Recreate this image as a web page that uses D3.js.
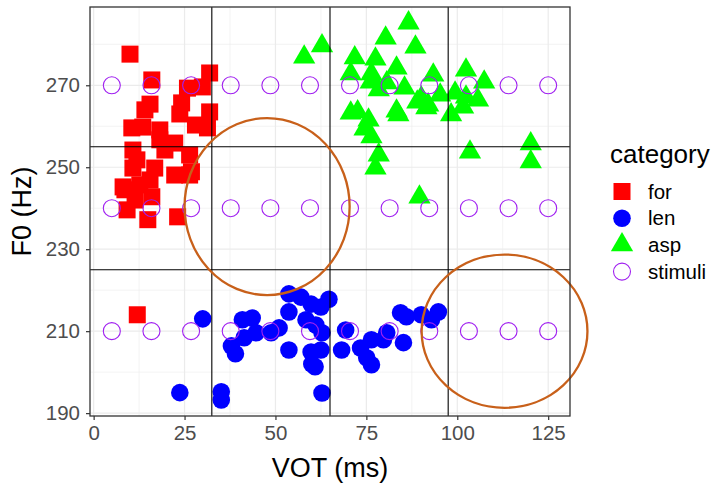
<!DOCTYPE html>
<html>
<head>
<meta charset="utf-8">
<script src="https://cdn.jsdelivr.net/npm/d3@7"></script>
<style>
  body { margin: 0; background: #fff; }
  text { font-family: "Liberation Sans", Arial, sans-serif; }
</style>
</head>
<body>
<svg></svg>
<script>
// VOT (ms) and F0 (Hz)
var forX = [10.0, 16.0, 31.9, 25.8, 29.9, 15.5, 24.2, 23.7, 31.9, 10.5, 13.5, 18.2, 28.0, 31.3, 18.2, 22.3, 10.8, 26.4,
            11.9, 16.8, 10.8, 22.3, 26.9, 8.1, 12.7, 16.0, 9.2, 14.9, 23.1, 8.6, 11.4, 19.6, 15.5, 12.0, 26.4, 14.1];
var forY = [277.6, 271.3, 273.0, 269.3, 269.6, 265.4, 265.7, 263.0, 263.5, 259.6, 259.8, 259.1, 260.3, 259.6, 256.7, 255.9, 254.2, 253.0,
            251.8, 249.8, 249.8, 248.1, 248.9, 245.2, 245.7, 242.8, 239.6, 237.2, 237.9, 244.5, 242.0, 254.2, 246.9, 214.0, 248.1, 264.0];

var lenX = [23.7, 30.0, 35.1, 35.1, 37.9, 39.0, 40.9, 43.6, 41.4, 44.7, 48.8, 51.0, 53.7, 57.0, 53.7, 59.8, 62.5, 64.7, 58.4, 61.1, 62.8,
            53.7, 59.8, 60.0, 62.5, 62.8, 60.9, 69.3, 68.2, 73.4, 76.4, 79.7, 80.6, 75.1, 76.4, 84.4, 86.0, 90.1, 94.8, 92.9, 85.2];
var lenY = [195.0, 213.0, 195.2, 193.2, 206.4, 204.5, 212.8, 213.2, 208.4, 209.6, 209.6, 210.8, 219.1, 218.3, 214.7, 216.6, 215.9, 217.8, 212.8, 211.5, 209.6,
            205.4, 204.9, 202.0, 205.4, 194.9, 201.3, 210.3, 205.4, 205.9, 207.9, 207.9, 209.6, 203.5, 201.8, 214.5, 213.5, 214.0, 214.7, 212.8, 207.2];

var aspX = [57.9, 62.8, 71.8, 70.7, 77.5, 80.3, 86.6, 88.5, 83.3, 76.4, 76.2, 78.4, 85.5, 80.6, 93.4, 102.4, 107.4, 95.3, 99.4, 89.0,
            91.5, 102.4, 105.7, 101.6, 98.3, 90.1, 70.7, 72.6, 75.6, 74.5, 76.4, 78.4, 77.5, 83.3, 83.8, 103.5, 120.2, 120.2, 89.6, 92.0];
var aspY = [276.9, 279.6, 276.7, 272.8, 276.4, 281.5, 285.2, 279.3, 274.2, 272.8, 270.8, 268.9, 269.3, 270.6, 272.5, 273.7, 270.8, 267.6, 268.1, 265.9,
            264.5, 267.1, 266.4, 264.7, 262.8, 266.9, 263.2, 263.5, 261.5, 259.3, 257.4, 253.0, 249.8, 263.7, 262.8, 253.7, 255.7, 251.3, 242.7, 265.2];

var stimX = [5, 15.9, 26.8, 37.7, 48.6, 59.5, 70.5, 81.4, 92.3, 103.2, 114.1, 125];
var stimY = [210, 240, 270];

var vLines = [32.5, 65, 97.5];
var hLines = [225, 255];

var ellCx = [47.7, 113.0], ellCy = [240.4, 210.0], ellRx = [22.7, 22.8], ellRy = [21.6, 18.7];

var xTicks = [0, 25, 50, 75, 100, 125];
var yTicks = [190, 210, 230, 250, 270];
var categories = ["for", "len", "asp", "stimuli"];

var W = 712, H = 487;
var panel = {left: 90, right: 570, top: 7, bottom: 416};

var svg = d3.select("svg").attr("width", W).attr("height", H);

var x = d3.scaleLinear().domain([-1, 131]).range([panel.left, panel.right]);
var y = d3.scaleLinear().domain([189.3, 289.1]).range([panel.bottom, panel.top]);

var g = svg.append("g");

// grid
var minorX = [12.5, 37.5, 62.5, 87.5, 112.5], minorY = [200, 220, 240, 260, 280];
g.selectAll(".gminx").data(minorX).enter().append("line")
  .attr("x1", d => x(d)).attr("x2", d => x(d)).attr("y1", panel.top).attr("y2", panel.bottom)
  .attr("stroke", "#ebebeb").attr("stroke-width", 0.6);
g.selectAll(".gminy").data(minorY).enter().append("line")
  .attr("y1", d => y(d)).attr("y2", d => y(d)).attr("x1", panel.left).attr("x2", panel.right)
  .attr("stroke", "#ebebeb").attr("stroke-width", 0.6);
g.selectAll(".gx").data(xTicks).enter().append("line")
  .attr("x1", d => x(d)).attr("x2", d => x(d)).attr("y1", panel.top).attr("y2", panel.bottom)
  .attr("stroke", "#ebebeb").attr("stroke-width", 1.2);
g.selectAll(".gy").data(yTicks).enter().append("line")
  .attr("y1", d => y(d)).attr("y2", d => y(d)).attr("x1", panel.left).attr("x2", panel.right)
  .attr("stroke", "#ebebeb").attr("stroke-width", 1.2);

// points
var triSize = 215, sq = 17, rr = 8.8;
g.selectAll(".for").data(forX).enter().append("rect")
  .attr("x", (d, i) => x(d) - sq / 2).attr("y", (d, i) => y(forY[i]) - sq / 2)
  .attr("width", sq).attr("height", sq).attr("fill", "#ff0000");
g.selectAll(".len").data(lenX).enter().append("circle")
  .attr("cx", d => x(d)).attr("cy", (d, i) => y(lenY[i])).attr("r", rr)
  .attr("fill", "#0000ff");
g.selectAll(".asp").data(aspX).enter().append("path")
  .attr("d", d3.symbol(d3.symbolTriangle, triSize))
  .attr("transform", (d, i) => "translate(" + x(d) + "," + y(aspY[i]) + ")")
  .attr("fill", "#00ff00");

// stimuli grid
var stim = [];
stimY.forEach(function(sy) { stimX.forEach(function(sx) { stim.push([sx, sy]); }); });
g.selectAll(".stim").data(stim).enter().append("circle")
  .attr("cx", d => x(d[0])).attr("cy", d => y(d[1])).attr("r", 8.5)
  .attr("fill", "none").attr("stroke", "#a020f0").attr("stroke-width", 1.1);

// reference lines
g.selectAll(".vl").data(vLines).enter().append("line")
  .attr("x1", d => x(d)).attr("x2", d => x(d)).attr("y1", panel.top).attr("y2", panel.bottom)
  .attr("stroke", "#000").attr("stroke-width", 1.1);
g.selectAll(".hl").data(hLines).enter().append("line")
  .attr("y1", d => y(d)).attr("y2", d => y(d)).attr("x1", panel.left).attr("x2", panel.right)
  .attr("stroke", "#000").attr("stroke-width", 1.1);

// ellipses
g.selectAll(".ell").data(ellCx).enter().append("ellipse")
  .attr("cx", d => x(d)).attr("cy", (d, i) => y(ellCy[i]))
  .attr("rx", (d, i) => x(ellRx[i]) - x(0)).attr("ry", (d, i) => y(0) - y(ellRy[i]))
  .attr("fill", "none").attr("stroke", "#c8601a").attr("stroke-width", 2.3);

// border
svg.append("rect").attr("x", panel.left).attr("y", panel.top)
  .attr("width", panel.right - panel.left).attr("height", panel.bottom - panel.top)
  .attr("fill", "none").attr("stroke", "#333").attr("stroke-width", 1.3);

// axes
var xAxis = svg.append("g").attr("transform", "translate(0," + panel.bottom + ")")
  .call(d3.axisBottom(x).tickValues(xTicks).tickSize(4).tickPadding(5));
var yAxis = svg.append("g").attr("transform", "translate(" + panel.left + ",0)")
  .call(d3.axisLeft(y).tickValues(yTicks).tickSize(4).tickPadding(6));
[xAxis, yAxis].forEach(function(a) {
  a.select(".domain").remove();
  a.selectAll(".tick line").attr("stroke", "#333").attr("stroke-width", 1.2);
  a.selectAll(".tick text").attr("fill", "#4d4d4d").style("font-size", "20.5px")
    .style("font-family", "Liberation Sans, Arial, sans-serif");
});

svg.append("text").attr("x", (panel.left + panel.right) / 2).attr("y", 477)
  .attr("text-anchor", "middle").style("font-size", "27px").text("VOT (ms)");
svg.append("text").attr("transform", "translate(31," + (panel.top + panel.bottom) / 2 + ") rotate(-90)")
  .attr("text-anchor", "middle").style("font-size", "27px").text("F0 (Hz)");

// legend
var leg = svg.append("g").attr("transform", "translate(610,0)");
leg.append("text").attr("x", 0).attr("y", 163).style("font-size", "26px").text("category");
var keys = leg.selectAll(".key").data(categories).enter().append("g")
  .attr("transform", (d, i) => "translate(12," + (191.5 + i * 26.7) + ")");
keys.each(function(d) {
  var k = d3.select(this);
  if (d === "for") k.append("rect").attr("x", -sq / 2).attr("y", -sq / 2).attr("width", sq).attr("height", sq).attr("fill", "#ff0000");
  if (d === "len") k.append("circle").attr("r", rr).attr("fill", "#0000ff");
  if (d === "asp") k.append("path").attr("d", d3.symbol(d3.symbolTriangle, triSize)).attr("fill", "#00ff00");
  if (d === "stimuli") k.append("circle").attr("r", 8.5).attr("fill", "none").attr("stroke", "#a020f0").attr("stroke-width", 1.1);
});
keys.append("text").attr("x", 26).attr("y", 7).style("font-size", "20.5px").text(d => d);
</script>
</body>
</html>
